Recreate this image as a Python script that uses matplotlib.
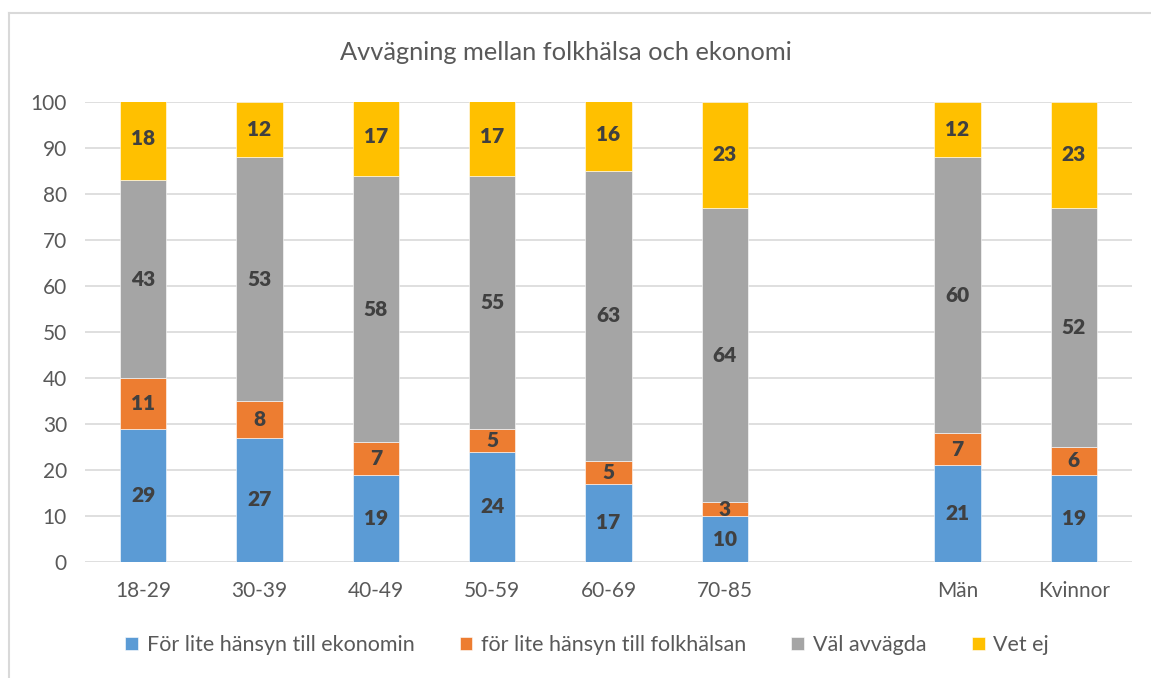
import numpy as np
import matplotlib
matplotlib.use("Agg")
import matplotlib.pyplot as plt
from matplotlib.lines import Line2D

plt.rcParams['font.family'] = ['Lato', 'DejaVu Sans']

# Data (percent)
groups = ['18-29', '30-39', '40-49', '50-59', '60-69', '70-85', 'Män', 'Kvinnor']
ekonomi = [29, 27, 19, 24, 17, 10, 21, 19]
folkhalsa = [11, 8, 7, 5, 5, 3, 7, 6]
val_avvagda = [43, 53, 58, 55, 63, 64, 60, 52]
vet_ej = [18, 12, 17, 17, 16, 23, 12, 23]

series_names = ['För lite hänsyn till ekonomin', 'för lite hänsyn till folkhälsan',
                'Väl avvägda', 'Vet ej']
colors = ['#5B9BD5', '#ED7D31', '#A5A5A5', '#FFC000']

# empty slot between age groups and gender
x = np.array([0, 1, 2, 3, 4, 5, 7, 8])

fig = plt.figure(figsize=(11.51, 6.78), dpi=100)
ax = fig.add_axes([85 / 1151, 116 / 678, 1047 / 1151, 460 / 678])

bottom = np.zeros(len(groups))
for vals, name, col in zip([ekonomi, folkhalsa, val_avvagda, vet_ej], series_names, colors):
    vals = np.array(vals, dtype=float)
    ax.bar(x, vals, width=0.4, bottom=bottom, color=col, label=name,
           edgecolor='white', linewidth=0.4, zorder=3)
    for xi, b, v in zip(x, bottom, vals):
        ax.text(xi, b + v / 2, f"{v:.0f}", ha='center', va='center',
                fontsize=15, fontweight='heavy', color='#404040', zorder=4)
    bottom += vals

ax.set_xlim(-0.5, 8.5)
ax.set_ylim(0, 100)
ax.set_yticks(range(0, 101, 10))
ax.set_xticks(x)
ax.set_xticklabels(groups)
ax.grid(axis='y', color='#D9D9D9', linewidth=1.2, zorder=0)
for s in ax.spines.values():
    s.set_visible(False)
ax.tick_params(length=0, labelsize=15, labelcolor='#595959')
ax.tick_params(axis='x', pad=14)
ax.tick_params(axis='y', pad=13)

fig.text(566 / 1151, 1 - 52 / 678, 'Avvägning mellan folkhälsa och ekonomi',
         ha='center', va='center', fontsize=18.3, color='#595959')

fig.legend(loc='center', bbox_to_anchor=(0.51, 1 - 645 / 678), ncol=4,
           frameon=False, fontsize=15.5, labelcolor='#595959',
           handlelength=0.6, handleheight=0.6, handletextpad=0.4,
           columnspacing=2.1)

# chart border (left and top visible)
fig.add_artist(Line2D([8.5 / 1151, 8.5 / 1151], [0, 1 - 13 / 678],
                      transform=fig.transFigure, color='#D9D9D9', linewidth=1.5))
fig.add_artist(Line2D([8.5 / 1151, 1], [1 - 13 / 678, 1 - 13 / 678],
                      transform=fig.transFigure, color='#D9D9D9', linewidth=1.5))

fig.savefig('out.png', dpi=100)
